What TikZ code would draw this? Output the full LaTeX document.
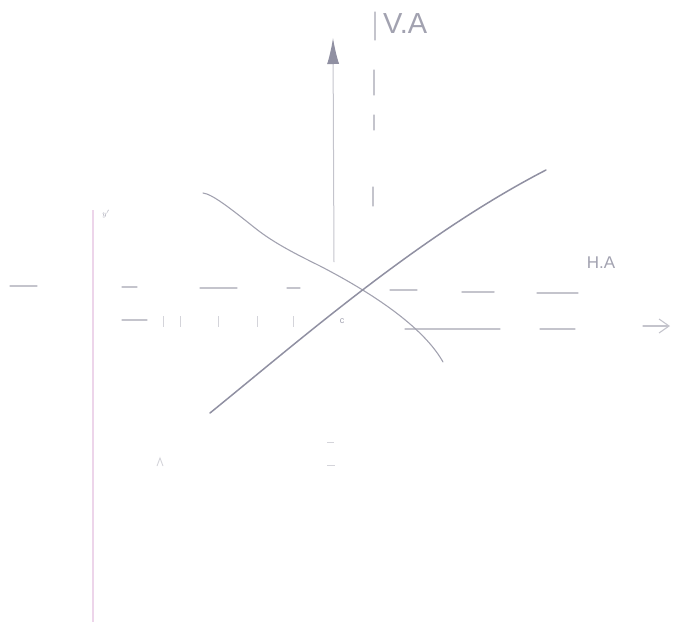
\documentclass[tikz,border=0pt]{standalone}
\usepackage{fontspec}
\setmainfont{Liberation Sans}
\usetikzlibrary{arrows.meta}
\definecolor{pencil}{HTML}{A2A2B0}
\definecolor{pencildark}{HTML}{9090A2}
\definecolor{pencillight}{HTML}{C4C4CC}
\definecolor{pencilfaint}{HTML}{D4D4DA}
\definecolor{pinkline}{HTML}{EDD5EA}
\tikzset{
  curveline/.style={pencil, line width=1.1pt, line cap=round},
  riseline/.style={pencildark, line width=1.5pt, line cap=round},
  dashseg/.style={pencillight, line width=1.1pt, line cap=round},
  tickseg/.style={pencilfaint, line width=0.9pt},
  axisline/.style={pencillight, line width=1pt},
  lbl/.style={text=pencil, inner sep=0pt},
}
\begin{document}
\begin{tikzpicture}[x=1pt,y=-1pt]
\useasboundingbox (0,0) rectangle (673,630);
% left pink line
\draw[pinkline, line width=1.2pt] (93,210) -- (93,622);
\node[lbl, font=\fontsize{8}{8}\selectfont] (yp) at (106,214) {$y'$};
% vertical axis with arrow
\coordinate (vbot) at (334,262);
\coordinate (vtop) at (333,38);
\draw[axisline, -{Latex[length=26pt,width=12pt,color=pencildark]}] (vbot) -- (vtop);
% V.A dashed vertical
\draw[dashseg] (375,12) -- (375,40);
\draw[dashseg] (374,70) -- (374,95);
\draw[dashseg] (374,115) -- (374,130);
\draw[dashseg] (373,187) -- (373,206);
\node[lbl, anchor=west, font=\fontsize{29}{29}\selectfont] (va) at (383,24) {V.A};
% H.A dashed horizontal
\draw[dashseg] (10,286) -- (37,286);
\draw[dashseg] (122,287) -- (137,287);
\draw[dashseg] (200,288) -- (237,288);
\draw[dashseg] (287,288) -- (300,288);
\draw[dashseg] (390,290) -- (417,290);
\draw[dashseg, line width=1.5pt] (462,292) -- (494,292);
\draw[dashseg] (537,293) -- (578,293);
\node[lbl, font=\fontsize{17}{17}\selectfont] (ha) at (601,263) {H.A};
% horizontal axis (faint, broken)
\draw[dashseg] (122,320) -- (147,320);
\foreach \tx in {163,180,218,257,293} \draw[tickseg] (\tx,316) -- (\tx,327);
\node[lbl, font=\fontsize{9}{9}\selectfont] (c) at (342,321) {c};
\draw[dashseg] (405,329) -- (500,329);
\draw[dashseg] (540,329) -- (575,329);
\coordinate (hstart) at (643,326);
\coordinate (hend) at (670,326);
\draw[dashseg, -{Straight Barb[length=10pt,width=14pt]}] (hstart) -- (hend);
% decreasing curve
\coordinate (d0) at (203,193);
\coordinate (da) at (255,228);
\coordinate (db) at (320,266);
\coordinate (d1) at (443,362);
\draw[curveline] (d0) .. controls (212,194) and (230,208) .. (da)
  .. controls (275,244) and (300,256) .. (db)
  .. controls (380,297) and (425,330) .. (d1);
% increasing line
\coordinate (r0) at (210,413);
\coordinate (r1) at (546,170);
\draw[riseline] (r0) .. controls (300,340) and (420,235) .. (r1);
% faint marks at bottom
\draw[tickseg] (157,466) -- (160,458) -- (163,466);
\draw[tickseg] (327,442) -- (334,442);
\draw[tickseg] (327,465) -- (335,465);
\end{tikzpicture}
\end{document}
